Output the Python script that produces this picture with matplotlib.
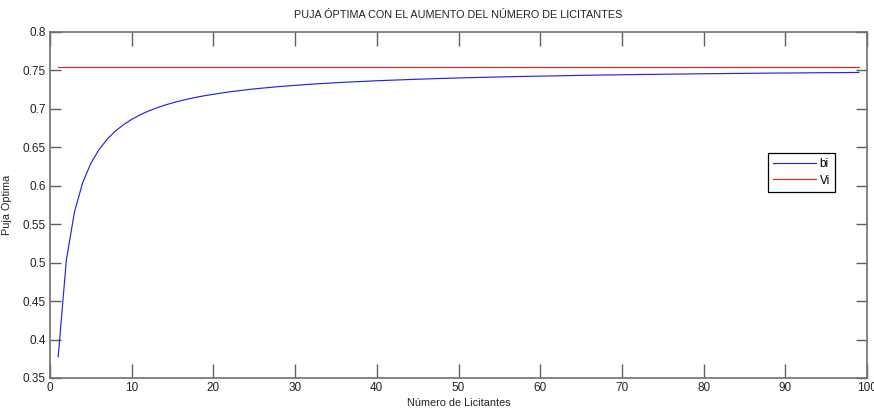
import matplotlib
matplotlib.use("Agg")
import matplotlib.pyplot as plt

n_licitantes = list(range(1, 100))
bi = [0.3775, 0.5033, 0.5663, 0.6040, 0.6292, 0.6471, 0.6606, 0.6711, 0.6795, 0.6864,
      0.6921, 0.6969, 0.7011, 0.7047, 0.7078, 0.7106, 0.7131, 0.7153, 0.7173, 0.7190,
      0.7207, 0.7222, 0.7235, 0.7248, 0.7260, 0.7270, 0.7280, 0.7290, 0.7298, 0.7306,
      0.7314, 0.7321, 0.7328, 0.7334, 0.7340, 0.7346, 0.7351, 0.7356, 0.7361, 0.7366,
      0.7370, 0.7374, 0.7378, 0.7382, 0.7386, 0.7389, 0.7393, 0.7396, 0.7399, 0.7402,
      0.7405, 0.7408, 0.7410, 0.7413, 0.7415, 0.7418, 0.7420, 0.7422, 0.7424, 0.7426,
      0.7428, 0.7430, 0.7432, 0.7434, 0.7436, 0.7437, 0.7439, 0.7441, 0.7442, 0.7444,
      0.7445, 0.7447, 0.7448, 0.7449, 0.7451, 0.7452, 0.7453, 0.7454, 0.7456, 0.7457,
      0.7458, 0.7459, 0.7460, 0.7461, 0.7462, 0.7463, 0.7464, 0.7465, 0.7466, 0.7467,
      0.7467, 0.7468, 0.7469, 0.7470, 0.7471, 0.7471, 0.7472, 0.7473, 0.7474]
vi_value = 0.755
vi = [vi_value] * len(n_licitantes)

xticks = [0, 10, 20, 30, 40, 50, 60, 70, 80, 90, 100]
yticks = [0.35, 0.4, 0.45, 0.5, 0.55, 0.6, 0.65, 0.7, 0.75, 0.8]
ytick_labels = ["0.35", "0.4", "0.45", "0.5", "0.55", "0.6", "0.65", "0.7", "0.75", "0.8"]

plt.rcParams['font.family'] = ["Liberation Sans", "DejaVu Sans"]

fig = plt.figure(figsize=(8.74, 4.12), dpi=100)
ax = fig.add_axes([50/874, 1 - 378/412, 817/874, 346/412])

ax.plot(n_licitantes, bi, color="#2424e0", lw=0.85, label="bi")
ax.plot(n_licitantes, vi, color="#ee1c1c", lw=0.85, label="Vi")

ax.set_xlim(0, 100)
ax.set_ylim(0.35, 0.8)
ax.set_xticks(xticks)
ax.set_xticklabels([str(t) for t in xticks])
ax.set_yticks(yticks)
ax.set_yticklabels(ytick_labels)

for s in ax.spines.values():
    s.set_color("#707070")
    s.set_linewidth(1.2)
ax.tick_params(direction="in", length=10, width=1.0, color="#606060",
               top=True, right=True, labelsize=8.5, labelcolor="#222222", pad=3)
ax.tick_params(axis="y", length=8)

ax.set_title("PUJA ÓPTIMA CON EL AUMENTO DEL NÚMERO DE LICITANTES", fontsize=7.8,
             color="#222222", pad=10)
ax.set_xlabel("Número de Licitantes", fontsize=7.8, color="#222222", labelpad=3)
ax.set_ylabel("Puja Óptima", fontsize=7.8, color="#222222")
ax.yaxis.set_label_coords(-0.0465, 0.5)

leg = ax.legend(loc="upper left", bbox_to_anchor=(0.879, 0.650), borderaxespad=0,
                fancybox=False, edgecolor="black", fontsize=8.5, handlelength=3.6,
                handletextpad=0.3, borderpad=0.45, labelspacing=0.35, framealpha=1)
leg.get_frame().set_linewidth(0.9)

fig.savefig("out.png", dpi=100)
